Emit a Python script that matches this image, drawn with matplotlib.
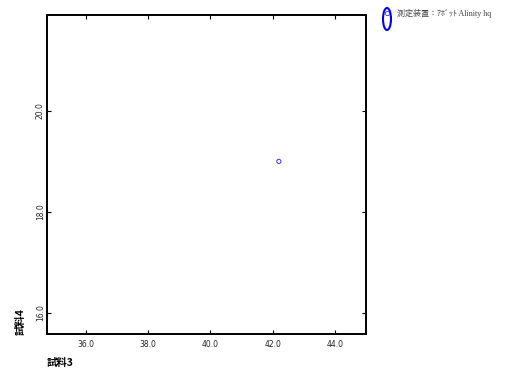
import matplotlib
matplotlib.use('Agg')
from matplotlib import pyplot as plt
from matplotlib.patches import Ellipse
from matplotlib.lines import Line2D

# data
sample3 = [42.2]
sample4 = [19.0]
x_ticks = [36.0, 38.0, 40.0, 42.0, 44.0]
y_ticks = [16.0, 18.0, 20.0]
legend_label = '測定装置：ｱﾎﾞｯﾄ Alinity hq'

cjk = ['Noto Sans CJK JP', 'DejaVu Sans']
serif = ['Liberation Serif', 'Noto Sans CJK JP']

fig = plt.figure(figsize=(5.24, 3.77), dpi=100)
ax = fig.add_axes([47 / 524, 1 - 334 / 377, 319 / 524, 319 / 377])

ax.scatter(sample3, sample4, s=9, facecolors='none', edgecolors='#3333ff', linewidths=0.7)

ax.set_xlim(34.75, 45.0)
ax.set_ylim(15.58, 21.9)
ax.set_xticks(x_ticks)
ax.set_xticklabels([f'{v:.1f}' for v in x_ticks], fontsize=5.5, color='#222222')
ax.set_yticks(y_ticks)
ax.set_yticklabels([f'{v:.1f}' for v in y_ticks], fontsize=5.5, color='#222222',
                   rotation=90, va='center')
ax.tick_params(direction='in', length=3, width=0.8, top=True, right=True)
ax.tick_params(axis='x', pad=4)
ax.tick_params(axis='y', pad=1.5)
for sp in ax.spines.values():
    sp.set_linewidth(1.4)

fig.text(47 / 524, 1 - 363 / 377, '試料3', fontsize=7.5, fontweight='bold',
         family=cjk, ha='left', va='center')
fig.text(21 / 524, 1 - 335 / 377, '試料4', fontsize=7.5, fontweight='bold',
         family=cjk, ha='center', va='bottom', rotation=90)

# legend drawn by hand
fig.patches.append(Ellipse((387 / 524, 1 - 19 / 377), 8 / 524, 22 / 377,
                           transform=fig.transFigure, fill=False,
                           edgecolor='#0000ee', linewidth=1.5))
fig.lines.append(Line2D([387 / 524], [1 - 13 / 377], transform=fig.transFigure,
                        marker='o', markersize=3, markerfacecolor='none',
                        markeredgecolor='#3333ff', markeredgewidth=0.6, linestyle='none'))
fig.text(397 / 524, 1 - 13 / 377, legend_label, fontsize=5.8, color='#444444',
         family=serif, ha='left', va='center')

plt.savefig('out.png', dpi=100)
